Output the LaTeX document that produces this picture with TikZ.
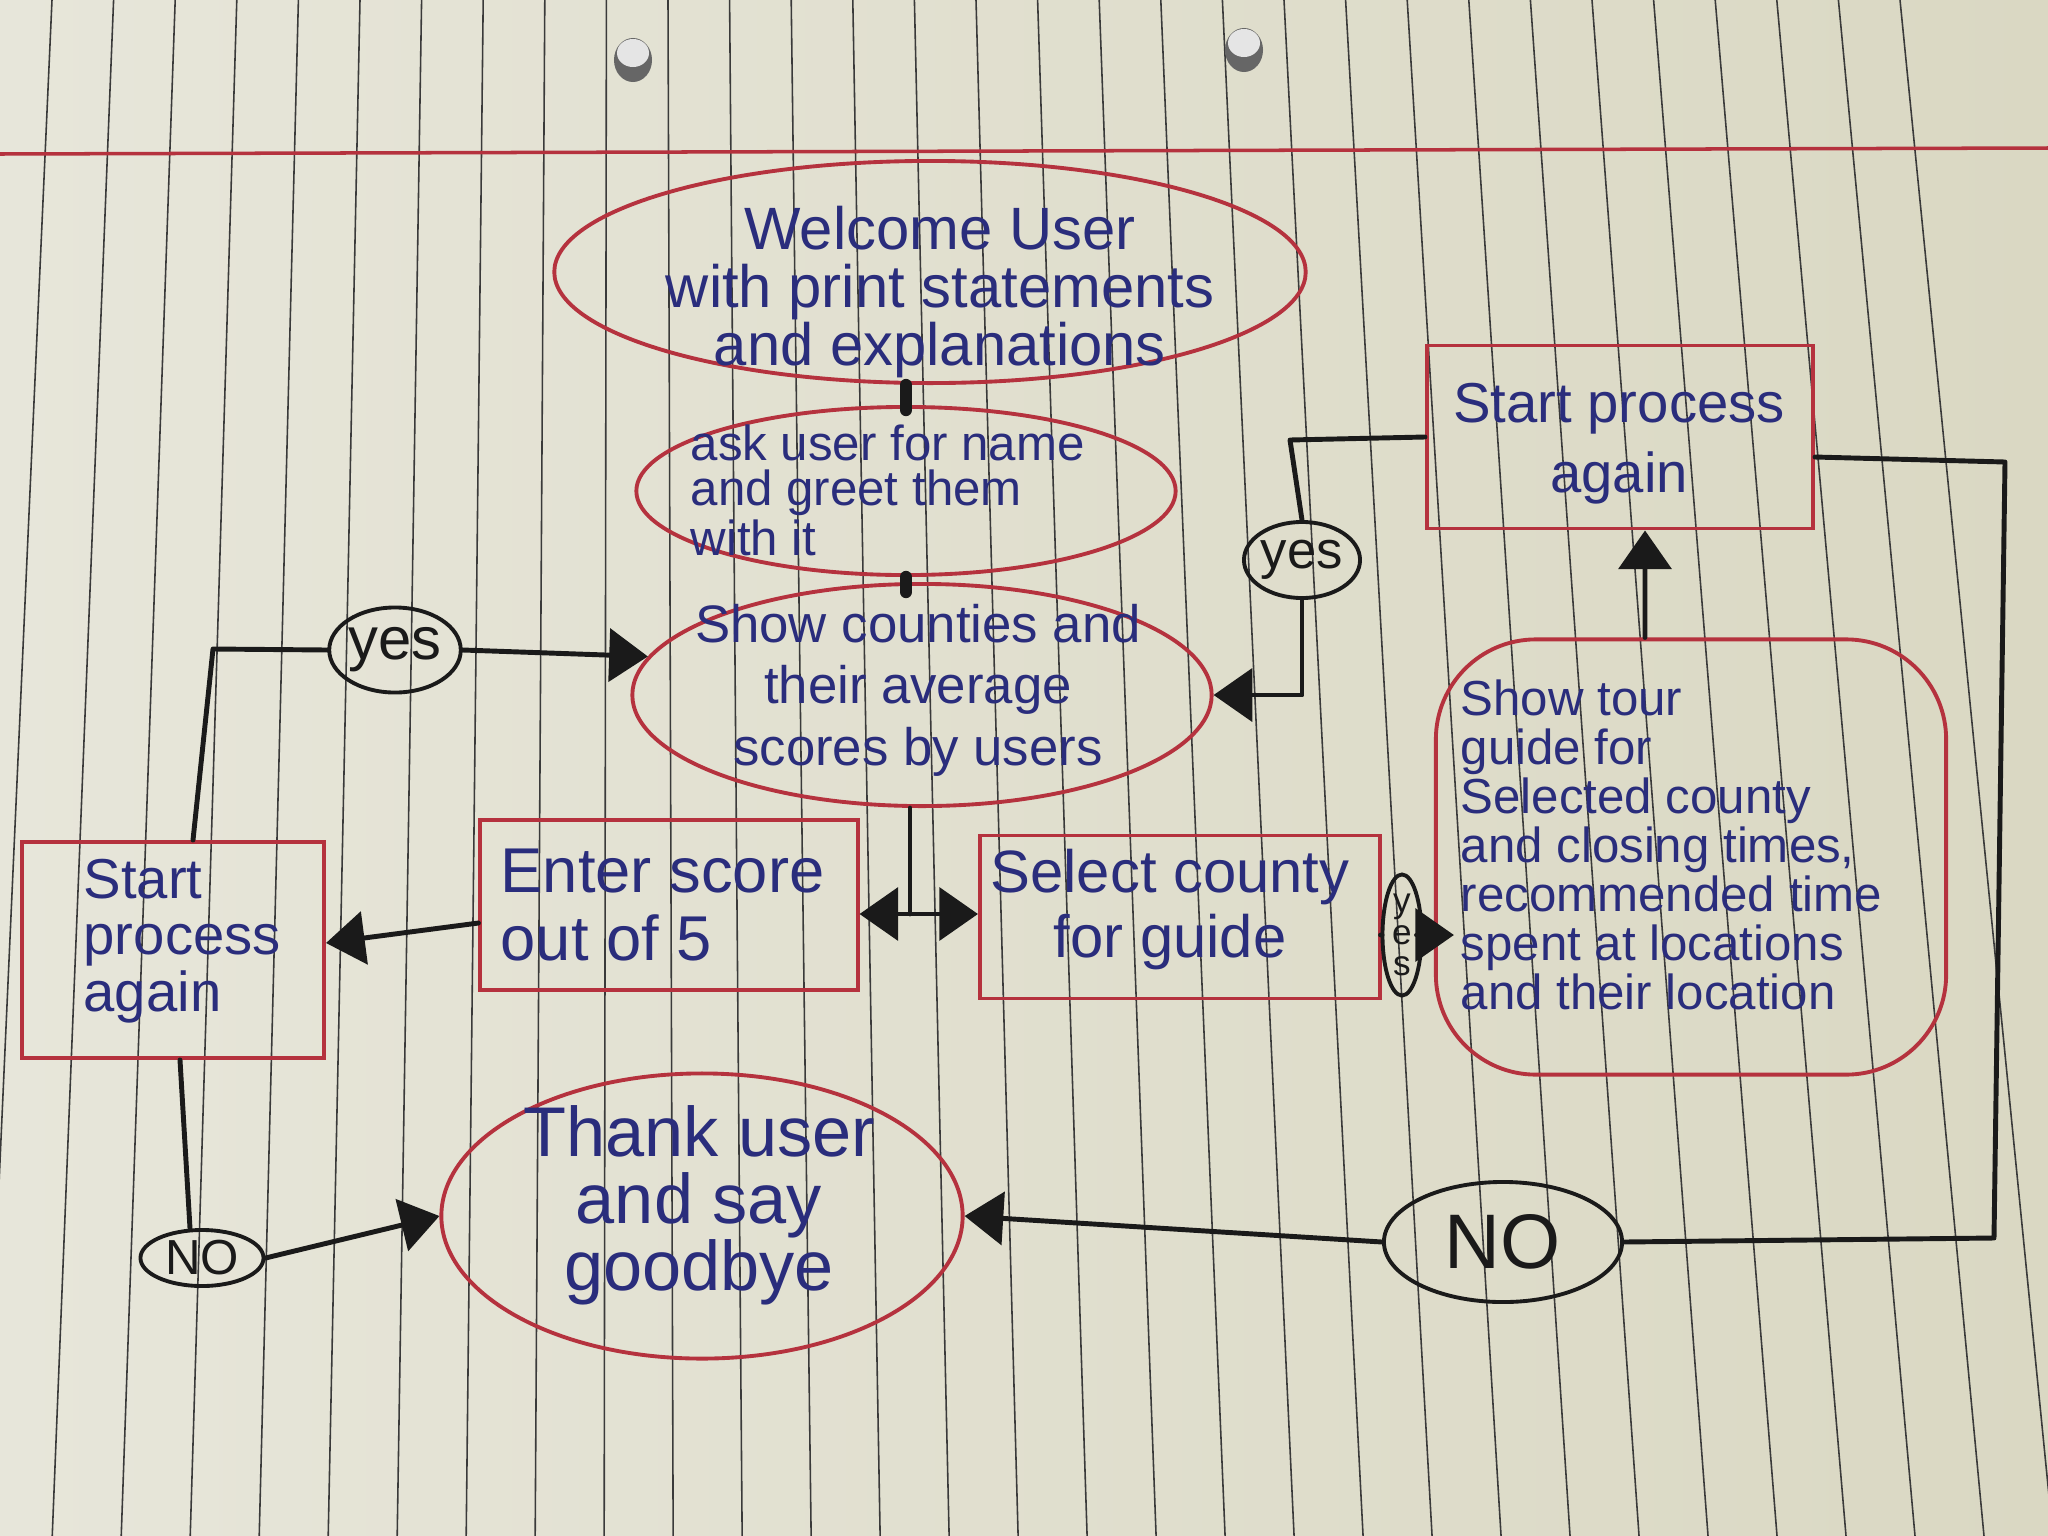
\documentclass[tikz,border=0pt]{standalone}
\usepackage{fontspec}
\setmainfont{Liberation Sans}
\usetikzlibrary{arrows.meta,shapes.geometric,calc}
\definecolor{paperL}{HTML}{E7E6DA}
\definecolor{paperR}{HTML}{DAD8C3}
\definecolor{rulecol}{HTML}{3A3A3A}
\definecolor{redink}{HTML}{B5323E}
\definecolor{blueink}{HTML}{2A2D7C}
\definecolor{blackink}{HTML}{1A1A1A}
\begin{document}
\begin{tikzpicture}[x=0.01cm,y=-0.01cm,
  redell/.style={ellipse, draw=redink, line width=1.1pt, inner sep=0pt},
  redbox/.style={rectangle, draw=redink, line width=1.1pt, inner sep=0pt},
  txt/.style={text=blueink, inner sep=0pt},
  lbl/.style={ellipse, draw=blackink, line width=1.1pt, inner sep=0pt, text=blackink},
  conn/.style={draw=blackink, line width=1.4pt, line cap=round, line join=round},
  arr/.style={conn, -{Triangle[length=11pt,width=15pt]}},
  blob/.style={draw=blackink, line width=3.5pt, line cap=round}
]
\useasboundingbox (0,0) rectangle (2048,1536);
\clip (0,0) rectangle (2048,1536);
% paper
\shade[left color=paperL, right color=paperR] (0,0) rectangle (2048,1536);
\foreach \k in {0,...,30} {
  \pgfmathsetmacro\xt{52+61.6*\k}
  \pgfmathsetmacro\xb{1.12*\xt-75}
  \draw[rulecol, line width=0.45pt] (\xt,0) -- (\xb,1536);
}
\draw[redink, line width=1pt] (0,154) -- (2048,148);
\foreach \hx/\hy in {633/60, 1244/50} {
  \fill[gray!80!black] (\hx,\hy) ellipse [x radius=0.19cm, y radius=0.22cm];
  \fill[white!80!gray] (\hx,\hy-7) ellipse [x radius=0.16cm, y radius=0.14cm];
}

% shapes
\node[redell, minimum width=7.51cm, minimum height=2.22cm] (welcome) at (930,272) {};
\node[txt, font=\fontsize{17}{16.5}\selectfont, align=center] (welcomet) at (940,292)
  {Welcome User\\with print statements\\and explanations};

\node[redell, minimum width=5.39cm, minimum height=1.68cm] (ask) at (906,491) {};
\node[txt, font=\fontsize{14}{13}\selectfont, align=left, anchor=west] (askt) at (690,490)
  {ask user for name\\and greet them\\with it};

\node[redell, minimum width=5.79cm, minimum height=2.22cm] (show) at (922,695) {};
\node[txt, font=\fontsize{15}{17.5}\selectfont, align=center] (showt) at (918,690)
  {Show counties and\\their average\\scores by users};

\node[redbox, minimum width=3.77cm, minimum height=1.70cm] (enter) at (669,905) {};
\node[txt, font=\fontsize{18}{19.5}\selectfont, align=left, anchor=west] (entert) at (500,905)
  {Enter score\\out of 5};

\node[redbox, minimum width=4.00cm, minimum height=1.63cm] (select) at (1180,917) {};
\node[txt, font=\fontsize{17}{18.5}\selectfont, align=center] (selectt) at (1170,910)
  {Select county\\for guide};

\node[redbox, minimum width=3.02cm, minimum height=2.16cm] (lstart) at (173,950) {};
\node[txt, font=\fontsize{16}{16}\selectfont, align=left, anchor=west] (lstartt) at (83,941)
  {Start\\process\\again};

\node[redbox, minimum width=3.86cm, minimum height=1.83cm] (rstart) at (1620,437) {};
\node[txt, font=\fontsize{16}{20}\selectfont, align=center] (rstartt) at (1619,444)
  {Start process\\again};

\node[redbox, rounded corners=1.0cm, minimum width=5.10cm, minimum height=4.35cm] (tour) at (1691,857) {};
\node[txt, font=\fontsize{14}{13.9}\selectfont, align=left, anchor=west] (tourt) at (1460,845)
  {Show tour\\guide for\\Selected county\\and closing times,\\recommended time\\spent at locations\\and their location};

\node[redell, minimum width=5.21cm, minimum height=2.85cm] (thank) at (702,1216) {};
\node[txt, font=\fontsize{20}{19}\selectfont, align=center] (thankt) at (699,1205)
  {Thank user\\and say\\goodbye};

% labels
\node[lbl, minimum width=1.27cm, minimum height=0.85cm, font=\fontsize{17}{17}\selectfont] (yesl) at (395,650) {yes};
\node[lbl, minimum width=1.14cm, minimum height=0.76cm, font=\fontsize{15}{15}\selectfont] (yesr) at (1302,560) {yes};
\node[lbl, minimum width=0.39cm, minimum height=1.21cm, font=\fontsize{10}{9}\selectfont, align=center] (yesv) at (1402,935) {y\\e\\s};
\node[lbl, minimum width=1.23cm, minimum height=0.56cm, font=\fontsize{14}{14}\selectfont] (nol) at (202,1258) {NO};
\node[lbl, minimum width=2.38cm, minimum height=1.20cm, font=\fontsize{22}{22}\selectfont] (nob) at (1503,1242) {NO};

% connectors
\draw[blob] (welcome.south -| ask.north) -- ([yshift=-0.05cm]ask.north);
\draw[blob] (ask.south) -- ([yshift=-0.1cm]ask.south |- show.north);

\coordinate (split) at (910,914);
\draw[conn] (show.south -| split) -- (split);
\draw[arr] (split) -- (split -| enter.east);
\draw[arr] (split) -- (split -| select.west);

\draw[arr] ([yshift=-0.18cm]enter.west) -- ([yshift=0.07cm]lstart.east);

\coordinate (c1) at (213,649);
\draw[conn] ([xshift=0.2cm]lstart.north) -- (c1) -- (yesl.west);
\draw[arr] (yesl.east) -- (show.172);

\draw[conn] ([xshift=0.07cm]lstart.south) -- ([xshift=-0.12cm]nol.north);
\draw[arr] (nol.east) -- (thank.west);

\draw[conn] ([yshift=-0.18cm]select.east) -- (yesv.west);
\draw[arr] (yesv.east) -- ([xshift=0.2cm]yesv.east -| tour.west);

\draw[arr] ([xshift=-0.46cm]tour.north) -- ([xshift=0.25cm]rstart.south);

\coordinate (c2) at (1290,440);
\draw[conn] (rstart.west) -- (c2) -- (yesr.north);
\draw[arr] (yesr.south) -- (yesr.south |- show.east) -- (show.east);

\coordinate (c3) at (2005,462);
\coordinate (c4) at (1994,1238);
\draw[conn] ([yshift=-0.2cm]rstart.east) -- (c3) -- (c4) -- (nob.east);
\draw[arr] (nob.west) -- (thank.east);
\end{tikzpicture}
\end{document}
